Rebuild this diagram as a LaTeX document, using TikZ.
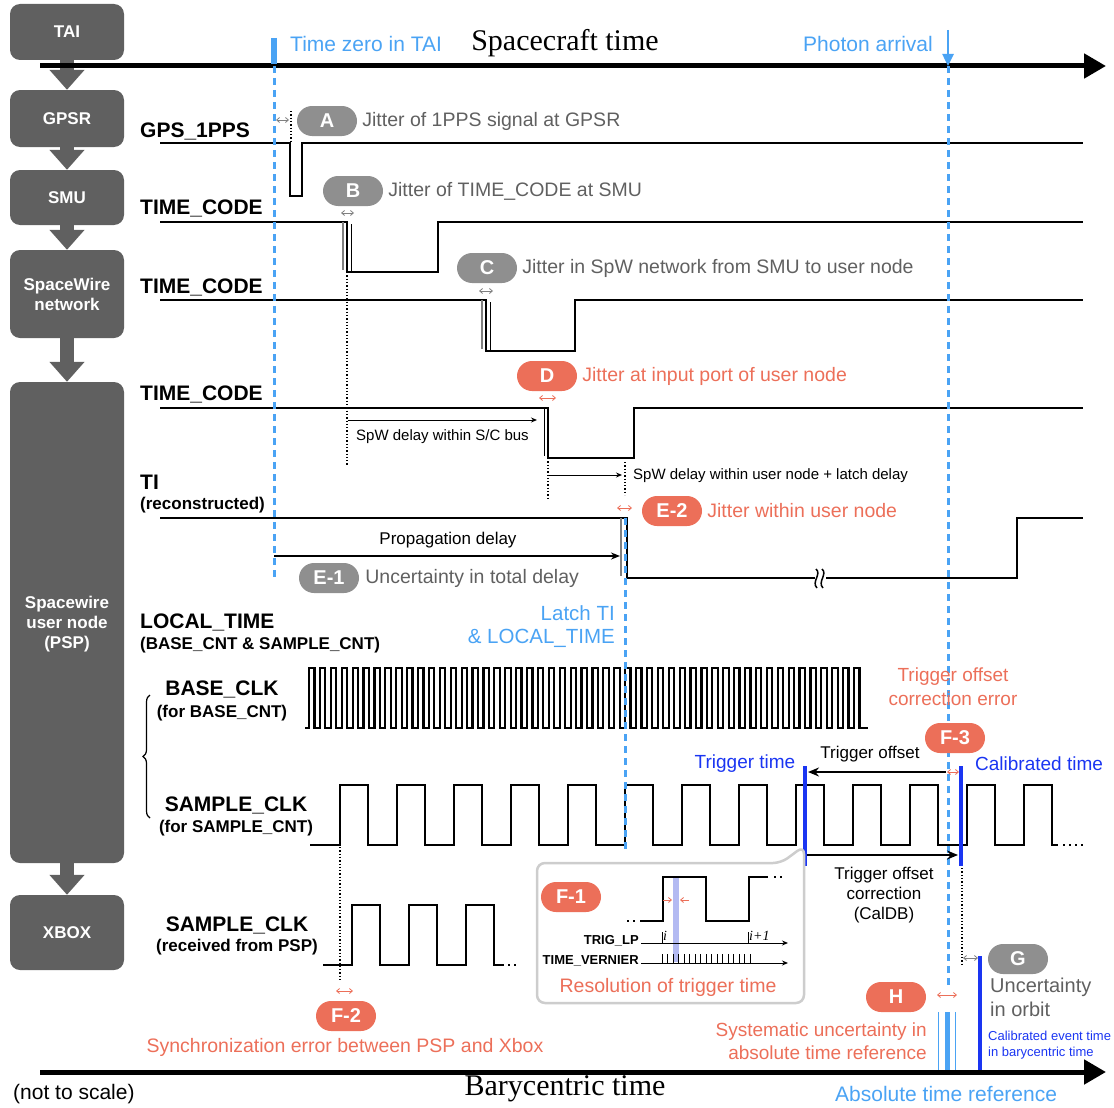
\documentclass[tikz,border=0pt]{standalone}
\usepackage{fontspec}
\setmainfont{Liberation Sans}
\newfontfamily\tmsfont{Liberation Serif}
\usetikzlibrary{arrows.meta,decorations.pathreplacing,shapes.misc}
\definecolor{boxgray}{HTML}{606060}
\definecolor{badgegray}{HTML}{8F8F8F}
\definecolor{txtgray}{HTML}{606060}
\definecolor{salmon}{HTML}{EC6F59}
\definecolor{lblue}{HTML}{4AA3F4}
\definecolor{dblue}{HTML}{1A35F2}
\definecolor{insetgray}{HTML}{CDCDCD}
\definecolor{vband}{HTML}{B3BAF2}
\newcommand\fsz[2]{\fontsize{#1}{#2}\selectfont}
\begin{document}
\begin{tikzpicture}[x=1pt,y=-1pt,
  blk/.style={fill=boxgray, rounded corners=10pt, minimum width=114pt, text=white, font=\bfseries\fsz{17}{20}, align=center, inner sep=0pt},
  badge/.style={rounded rectangle, minimum width=60pt, minimum height=30pt, inner sep=0pt, text=white, font=\bfseries\fsz{20}{24}},
  gbadge/.style={badge, fill=badgegray},
  rbadge/.style={badge, fill=salmon},
  flow/.style={line width=14pt, boxgray, -{Triangle[width=34pt,length=20pt]}},
  wave/.style={line width=2.6pt, line join=miter},
  sig/.style={anchor=west, font=\bfseries\fsz{21}{25}, inner sep=0pt},
  sub/.style={anchor=west, font=\bfseries\fsz{17}{20}, inner sep=0pt},
  jitg/.style={{Straight Barb[length=3pt,width=5pt]}-{Straight Barb[length=3pt,width=5pt]}, line width=0.8pt, gray},
  jitr/.style={jitg, salmon},
  dots/.style={dotted, line width=1.3pt},
  bdash/.style={lblue, line width=3pt, dash pattern=on 7pt off 5pt},
  note/.style={anchor=west, inner sep=0pt, font=\fsz{19.5}{23}},
  thinarr/.style={-{Stealth[length=6pt,width=5pt]}, line width=1pt},
  bigarr/.style={-{Stealth[length=11pt,width=9pt]}, line width=2pt},
  axis/.style={line width=5pt, -{Triangle[length=22pt,width=24pt]}}
]
\useasboundingbox (0,0) rectangle (1114,1108);

% ---------- left boxes ----------
\node[blk, minimum height=56pt] (tai) at (67,32) {TAI};
\node[blk, minimum height=57pt] (gpsr) at (67,118.5) {GPSR};
\node[blk, minimum height=55pt] (smu) at (67,197.5) {SMU};
\node[blk, minimum height=88pt] (spw) at (67,294) {SpaceWire\\network};
\node[blk, minimum height=481pt] (psp) at (67,622.5) {};
\node[font=\bfseries\fsz{17}{20}, text=white, align=center] at (67,624) {Spacewire\\user node\\(PSP)};
\node[blk, minimum height=75pt] (xbox) at (67,932.5) {XBOX};
\draw[flow] (tai.south) -- (gpsr.north);
\draw[flow] (gpsr.south) -- (smu.north);
\draw[flow] (smu.south) -- (spw.north);
\draw[flow] (spw.south) -- (psp.north);
\draw[flow] (psp.south) -- (xbox.north);

% ---------- top axis ----------
\draw[axis] (40,66) -- (1106,66);
\draw[lblue, line width=6pt] (274,38) -- (274,64);
\node[note, text=lblue, font=\fsz{21}{25}] at (290,44) {Time zero in TAI};
\node[font=\tmsfont\fsz{30}{34}] at (565,43) {Spacecraft time};
\node[font=\fsz{21}{25}, text=lblue] at (868,44) {Photon arrival};
\draw[lblue, line width=2.5pt, -{Triangle[length=12pt,width=11pt]}] (948,30) -- (948,66);

% ---------- signal labels ----------
\node[sig] at (140,131) {GPS\_1PPS};
\node[sig] at (140,208) {TIME\_CODE};
\node[sig] at (140,287) {TIME\_CODE};
\node[sig] at (140,394) {TIME\_CODE};
\node[sig] at (140,482) {TI};
\node[sub] at (140,505) {(reconstructed)};
\node[sig] at (140,622) {LOCAL\_TIME};
\node[sub] at (140,645) {(BASE\_CNT \& SAMPLE\_CNT)};
\node[sig, anchor=center] at (222,689) {BASE\_CLK};
\node[sub, anchor=center] at (222,713) {(for BASE\_CNT)};
\node[sig, anchor=center] at (236,805) {SAMPLE\_CLK};
\node[sub, anchor=center] at (236,828) {(for SAMPLE\_CNT)};
\node[sig, anchor=center] at (237,925) {SAMPLE\_CLK};
\node[sub, anchor=center] at (237,947) {(received from PSP)};
\draw[decorate, decoration={brace, amplitude=7pt}, line width=1.2pt] (150,818) -- (150,695);

% ---------- waveforms ----------
\draw[wave] (160,143) -- (290,143) -- (290,196) -- (302,196) -- (302,143) -- (1083,143);
\draw[wave] (160,222) -- (347,222) -- (347,272) -- (438,272) -- (438,222) -- (1083,222);
\draw[gray, line width=1.2pt] (343,222) -- (343,270);
\draw[line width=1pt] (351,224) -- (351,272);
\draw[wave] (160,300) -- (486,300) -- (486,351) -- (575,351) -- (575,300) -- (1083,300);
\draw[gray, line width=1.2pt] (482,300) -- (482,349);
\draw[line width=1pt] (490,302) -- (490,351);
\draw[wave] (160,408) -- (548,408) -- (548,458) -- (634,458) -- (634,408) -- (1083,408);
\draw[line width=1pt] (544,408) -- (544,456);
\draw[wave] (160,518) -- (627,518) -- (627,578) -- (1017,578) -- (1017,518) -- (1083,518);
\draw[gray, line width=1.2pt] (621,518) -- (621,576);
\fill[white] (815,572) rectangle (826,584);
\draw[line width=1.5pt] (816,569) .. controls (822,574) and (811,582) .. (817,588);
\draw[line width=1.5pt] (822,569) .. controls (828,574) and (817,582) .. (823,588);

% BASE_CLK
\draw[wave, line width=2.2pt] (305,728) -- (309,728)
  \foreach \k in {1,...,51}{ -- ++(0,-60) -- ++(5.45,0) -- ++(0,60) -- ++(5.45,0)} -- (868,728);
% SAMPLE_CLK (PSP)
\draw[wave] (310,845) -- (340,845)
  \foreach \k in {1,...,12}{ -- ++(0,-60) -- ++(28,0) -- ++(0,60) -- ++(29,0)}
  -- ++(0,-60) -- ++(28,0) -- ++(0,60) -- ++(6,0);
\foreach \xx in {1064,1070,1076,1082} \fill (\xx-1.3,843.7) rectangle ++(2.6,2.6);
% SAMPLE_CLK (XBOX)
\draw[wave] (323,965) -- (352,965)
  \foreach \k in {1,2}{ -- ++(0,-60) -- ++(28,0) -- ++(0,60) -- ++(29,0)}
  -- ++(0,-60) -- ++(28,0) -- ++(0,60) -- ++(10,0);
\foreach \xx in {509,515} \fill (\xx-1.3,963.7) rectangle ++(2.6,2.6);

% ---------- dashed reference lines ----------
\draw[bdash] (274,66) -- (274,580);
\draw[bdash] (948,66) -- (948,988);
\draw[bdash] (625,518) -- (625,852);
\node[anchor=east, text=lblue, font=\fsz{20.5}{24}, inner sep=0pt] at (615,613) {Latch TI};
\node[anchor=east, text=lblue, font=\fsz{20.5}{24}, inner sep=0pt] at (615,638) {\& LOCAL\_TIME};

% ---------- jitter annotations ----------
\draw[jitg] (276,120) -- (289,120);
\draw[dots] (291,111) -- (291,143);
\node[gbadge] (A) at (327,121) {A};
\node[note, text=txtgray] at ([xshift=5pt]A.east) {Jitter of 1PPS signal at GPSR};
\draw[jitg] (341,213) -- (354,213);
\node[gbadge] (B) at (353,191) {B};
\node[note, text=txtgray] at ([xshift=5pt]B.east) {Jitter of TIME\_CODE at SMU};
\draw[jitg] (479,291) -- (493,291);
\node[gbadge] (C) at (487,268) {C};
\node[note, text=txtgray] at ([xshift=5pt]C.east) {Jitter in SpW network from SMU to user node};
\draw[jitr] (539,398) -- (556,398);
\node[rbadge] (D) at (547,376) {D};
\node[note, text=salmon] at ([xshift=5pt]D.east) {Jitter at input port of user node};
\draw[jitr] (617,508) -- (632,508);
\node[rbadge] (E2) at (672,511) {E-2};
\node[note, text=salmon] at ([xshift=5pt]E2.east) {Jitter within user node};
\node[gbadge] (E1) at (329,578) {E-1};
\node[note, text=txtgray] at ([xshift=6pt]E1.east) {Uncertainty in total delay};

% ---------- delays ----------
\draw[dots] (347,272) -- (347,466);
\draw[dots] (548,458) -- (548,500);
\draw[dots] (625,462) -- (625,495);
\draw[thinarr] (348,420) -- (537,420);
\node[anchor=west, font=\fsz{15}{18}, inner sep=0pt] at (356,437) {SpW delay within S/C bus};
\draw[thinarr] (549,475) -- (622,475);
\node[anchor=west, font=\fsz{15}{18}, inner sep=0pt] at (633,476) {SpW delay within user node + latch delay};
\draw[-{Stealth[length=9pt,width=7pt]}, line width=1.8pt] (274,556) -- (620,556);
\node[font=\fsz{17}{20}] at (448,540) {Propagation delay};

% ---------- trigger ----------
\node[text=dblue, font=\fsz{19}{23}] at (745,764) {Trigger time};
\node[text=dblue, font=\fsz{19}{23}, anchor=west, inner sep=0pt] at (975,764) {Calibrated time};
\draw[dblue, line width=3.5pt] (805,766) -- (805,866);
\draw[dblue, line width=3.5pt] (961,766) -- (961,866);
\draw[bigarr] (946,772) -- (808,772);
\node[font=\fsz{17}{20}] at (870,754) {Trigger offset};
\draw[jitr] (947,772) -- (959,772);
\node[rbadge] (F3) at (955,738) {F-3};
\node[text=salmon, font=\fsz{19}{24}, align=center] at (953,687) {Trigger offset\\correction error};
\draw[bigarr] (807,855) -- (958,855);
\node[font=\fsz{17}{20}, align=center] at (884,895) {Trigger offset\\correction\\(CalDB)};

% ---------- inset F-1 ----------
\draw[insetgray, line width=2.5pt, rounded corners=8pt, fill=white] (537,933) -- (537,863) -- (781,863) -- (804,846) -- (804,1003) -- (537,1003) -- cycle;
\fill[vband] (673,877) rectangle (679,962);
\draw[line width=2.5pt] (640,921) -- (663,921) -- (663,877) -- (706,877) -- (706,921) -- (749,921) -- (749,877) -- (768,877);
\foreach \xx in {628,634} \fill (\xx-1.3,919.7) rectangle ++(2.6,2.6);
\foreach \xx in {775,781} \fill (\xx-1.3,875.7) rectangle ++(2.6,2.6);
\draw[salmon, -{Straight Barb[length=3pt,width=5pt]}, line width=0.8pt] (663,900) -- (672,900);
\draw[salmon, -{Straight Barb[length=3pt,width=5pt]}, line width=0.8pt] (689,900) -- (680,900);
\node[rbadge] (F1) at (571,897) {F-1};
\node[anchor=east, font=\bfseries\fsz{13}{15}, inner sep=0pt] at (639,941) {TRIG\_LP};
\draw[thinarr] (641,943) -- (788,943);
\draw[line width=0.8pt] (662,943) -- (662,932);
\draw[line width=0.8pt] (748,943) -- (748,932);
\node[anchor=west, font=\tmsfont\itshape\fsz{14}{16}, inner sep=1pt] at (662,936) {i};
\node[anchor=west, font=\tmsfont\itshape\fsz{14}{16}, inner sep=1pt] at (748,936) {i+1};
\node[anchor=east, font=\bfseries\fsz{13}{15}, inner sep=0pt] at (639,961) {TIME\_VERNIER};
\draw[thinarr] (641,963) -- (788,963);
\foreach \k in {0,...,16} \draw[line width=0.8pt] (662+5.5*\k,963) -- ++(0,-9);
\node[text=salmon, font=\fsz{19.5}{23}] at (668,987) {Resolution of trigger time};

% ---------- F-2 ----------
\draw[dots] (340,847) -- (340,980);
\draw[jitr] (336,991) -- (353,991);
\node[rbadge] (F2) at (346,1016) {F-2};
\node[text=salmon, font=\fsz{19.5}{23}] at (345,1047) {Synchronization error between PSP and Xbox};

% ---------- G / H ----------
\draw[dots] (962,868) -- (962,965);
\draw[jitg] (963,958) -- (978,958);
\draw[dblue, line width=4pt] (980,956) -- (980,1072);
\node[gbadge] (G) at (1018,959) {G};
\node[text=txtgray, font=\fsz{20}{24}, align=left, anchor=north west, inner sep=0pt] at (990,978) {Uncertainty\\in orbit};
\node[text=dblue, font=\fsz{13}{16}, align=left, anchor=north west, inner sep=0pt] at (988,1031) {Calibrated event time\\in barycentric time};
\node[rbadge] (H) at (896,997) {H};
\draw[jitr] (937,995) -- (957,995);
\node[text=salmon, font=\fsz{19}{23}, align=right, anchor=east, inner sep=0pt] at (927,1041) {Systematic uncertainty in\\absolute time reference};
\draw[lblue, line width=1pt] (938,1012) -- (938,1072);
\draw[lblue, line width=5pt] (947,1012) -- (947,1072);
\draw[lblue, line width=1pt] (955,1012) -- (955,1072);

% ---------- bottom axis ----------
\draw[axis] (40,1072) -- (1106,1072);
\node[font=\tmsfont\fsz{30}{34}] at (565,1089) {Barycentric time};
\node[anchor=west, font=\fsz{21}{25}, inner sep=0pt] at (13,1094) {(not to scale)};
\node[text=lblue, anchor=west, font=\fsz{21}{25}, inner sep=0pt] at (835,1094) {Absolute time reference};
\end{tikzpicture}
\end{document}
